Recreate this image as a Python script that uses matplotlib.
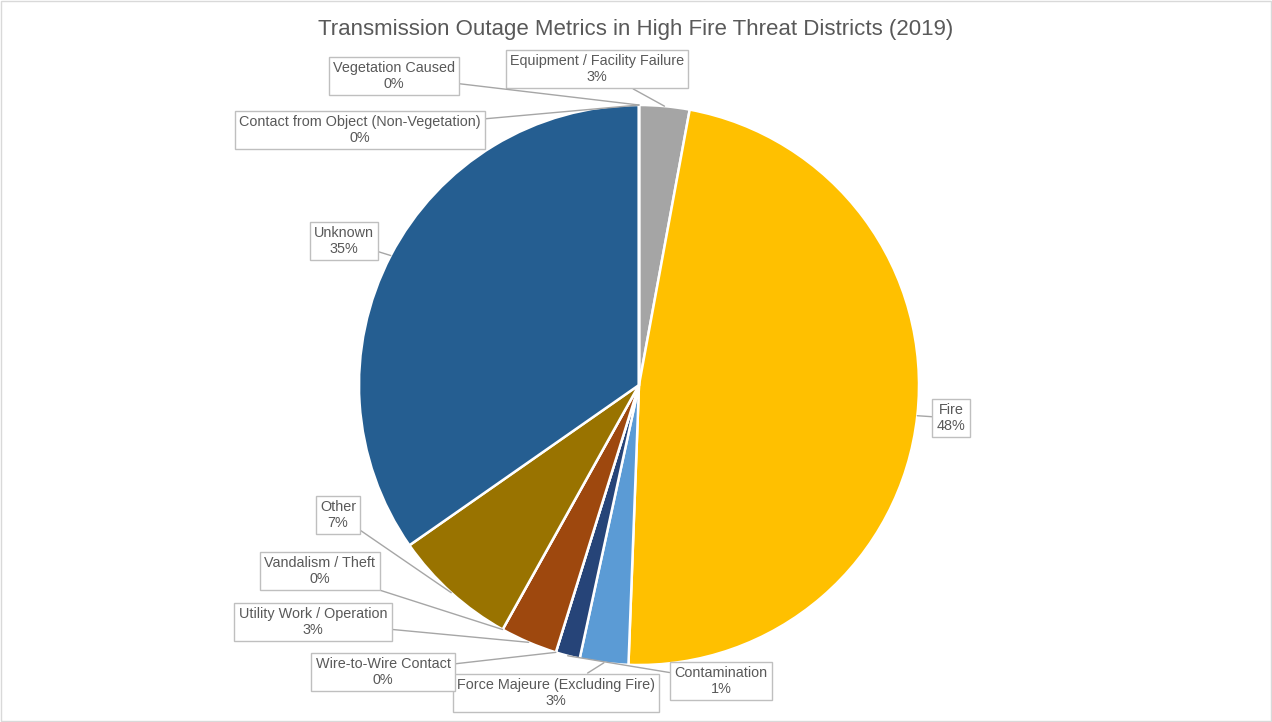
import numpy as np
import matplotlib
matplotlib.use('agg')
import matplotlib.pyplot as plt
from matplotlib.patches import Rectangle

plt.rcParams['font.family'] = ['Liberation Sans', 'DejaVu Sans']

# slices, clockwise from 12 o'clock
categories = ['Equipment / Facility Failure', 'Fire', 'Force Majeure (Excluding Fire)',
              'Contamination', 'Wire-to-Wire Contact', 'Utility Work / Operation',
              'Vandalism / Theft', 'Other', 'Unknown', 'Vegetation Caused',
              'Contact from Object (Non-Vegetation)']
shares = [2.9, 47.7, 2.8, 1.4, 0.0, 3.3, 0.0, 7.2, 34.7, 0.0, 0.0]
colors = ['#A5A5A5', '#FFC000', '#5B9BD5', '#264478', '#70AD47', '#9E480E',
          '#636363', '#997300', '#255E91', '#4472C4', '#ED7D31']

# label box centres in pixels (x from left, y from top)
label_pos = {
    'Equipment / Facility Failure': (597, 69),
    'Fire': (951, 418),
    'Force Majeure (Excluding Fire)': (556, 693),
    'Contamination': (721, 681),
    'Wire-to-Wire Contact': (383, 672),
    'Utility Work / Operation': (313, 622),
    'Vandalism / Theft': (320, 571),
    'Other': (338, 515),
    'Unknown': (344, 241),
    'Vegetation Caused': (394, 76),
    'Contact from Object (Non-Vegetation)': (360, 130),
}

W, H = 1272, 722
cx, cy, r = 639, H - 385, 280

fig = plt.figure(figsize=(W / 100, H / 100), dpi=100)
ax = fig.add_axes([0, 0, 1, 1])

wedges, _ = ax.pie(shares, colors=colors, startangle=90, counterclock=False,
                   center=(cx, cy), radius=r, frame=True,
                   wedgeprops=dict(edgecolor='white', linewidth=1.8))
ax.set_xlim(0, W)
ax.set_ylim(0, H)
ax.set_aspect('auto')
ax.axis('off')

total = sum(shares)
for w, name, v in zip(wedges, categories, shares):
    mid = np.deg2rad((w.theta1 + w.theta2) / 2)
    px, py = cx + r * np.cos(mid), cy + r * np.sin(mid)
    lx, ly = label_pos[name]
    ax.annotate(f'{name}\n{round(v / total * 100):.0f}%', xy=(px, py), xytext=(lx, H - ly),
                ha='center', va='center', fontsize=10.4, color='#595959', linespacing=1.2,
                bbox=dict(boxstyle='square,pad=0.3', fc='white', ec='#BFBFBF', lw=1),
                arrowprops=dict(arrowstyle='-', color='#A6A6A6', lw=1, shrinkA=0, shrinkB=0))

fig.text(0.5, 1 - 30 / H, 'Transmission Outage Metrics in High Fire Threat Districts (2019)',
         ha='center', va='center', fontsize=16, color='#595959')

fig.add_artist(Rectangle((0.001, 0.002), 0.998, 0.996, transform=fig.transFigure,
                         fill=False, edgecolor='#D9D9D9', lw=1))

fig.savefig('out.png', dpi=100, facecolor='white')
plt.close()
